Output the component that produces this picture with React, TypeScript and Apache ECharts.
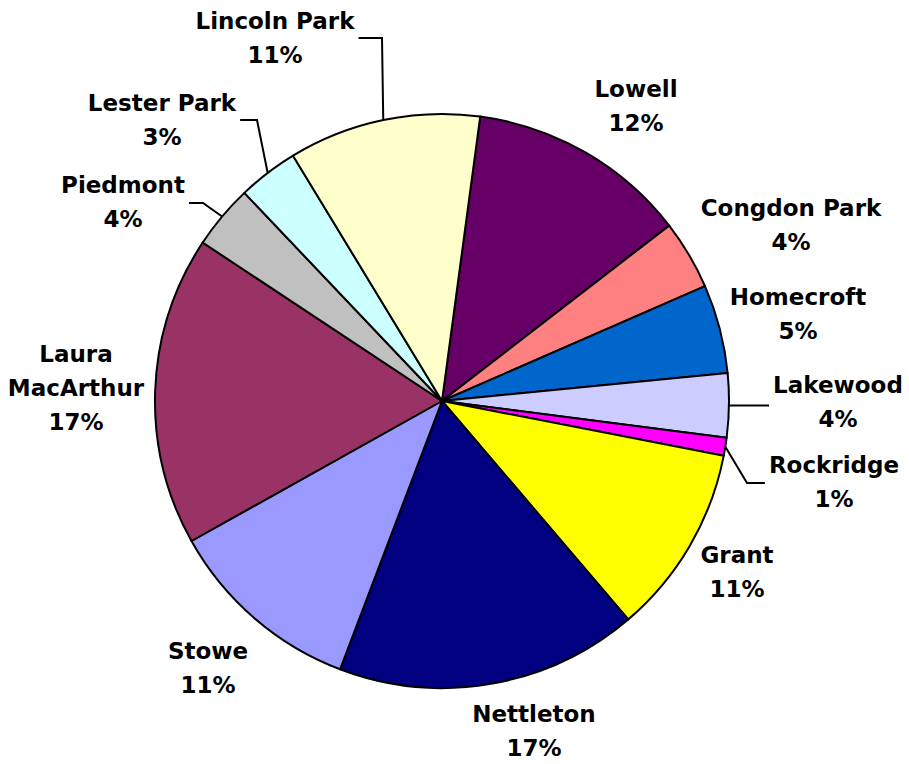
import React, { useEffect, useRef } from "react";
import * as echarts from "echarts";

// ---- data ----
const categories = [
  "Lowell",
  "Congdon Park",
  "Homecroft",
  "Lakewood",
  "Rockridge",
  "Grant",
  "Nettleton",
  "Stowe",
  "Laura MacArthur",
  "Piedmont",
  "Lester Park",
  "Lincoln Park",
];
const shares = [12.4, 3.9, 5.0, 3.6, 1.0, 10.7, 17.0, 11.1, 17.4, 3.6, 3.4, 10.8];

// ---- styles ----
const colors = [
  "#660066",
  "#FF8080",
  "#0066CC",
  "#CCCCFF",
  "#FF00FF",
  "#FFFF00",
  "#000080",
  "#9999FF",
  "#993366",
  "#C0C0C0",
  "#CCFFFF",
  "#FFFFCC",
];

// ---- layout (label offsets from pie centre, optional leader elbow) ----
const CX = 442;
const CY = 401;
const R = 287;
type LabelPos = { dx: number; dy: number; elbow?: [number, number] | null; lead: boolean; wrap?: boolean };
const labelPos: LabelPos[] = [
  { dx: 194, dy: -295, lead: false },
  { dx: 349, dy: -176, lead: false },
  { dx: 356, dy: -87, lead: false },
  { dx: 396, dy: 1, lead: true, elbow: null },
  { dx: 392, dy: 81, lead: true, elbow: [305, 82] },
  { dx: 295, dy: 171, lead: false },
  { dx: 92, dy: 330, lead: false },
  { dx: -234, dy: 267, lead: false },
  { dx: -366, dy: -13, lead: false, wrap: true },
  { dx: -319, dy: -199, lead: true, elbow: [-239, -198] },
  { dx: -280, dy: -281, lead: true, elbow: [-185, -281] },
  { dx: -167, dy: -363, lead: true, elbow: [-60, -363] },
];

export default function App() {
  const ref = useRef<HTMLDivElement>(null);

  useEffect(() => {
    if (!ref.current) return;
    const chart = echarts.init(ref.current, null, { renderer: "svg" });

    const data = categories.map((name, i) => ({
      name,
      value: shares[i],
      itemStyle: { color: colors[i] },
      labelLine: { show: labelPos[i].lead },
    }));

    chart.setOption({
      animation: false,
      backgroundColor: "#ffffff",
      series: [
        {
          type: "pie",
          center: [CX, CY],
          radius: R,
          startAngle: 82.35,
          clockwise: true,
          avoidLabelOverlap: false,
          data,
          itemStyle: { borderColor: "#000000", borderWidth: 2 },
          label: {
            show: true,
            position: "outside",
            fontFamily: "DejaVu Sans",
            fontWeight: "bold",
            fontSize: 23,
            lineHeight: 34,
            color: "#000000",
            align: "center",
            formatter: (p: any) => {
              const name = labelPos[p.dataIndex].wrap ? p.name.replace(" ", "\n") : p.name;
              return `${name}\n${Math.round(p.percent)}%`;
            },
          },
          labelLine: {
            lineStyle: { color: "#000000", width: 2 },
            length: 10,
            length2: 10,
          },
          labelLayout: (params: any) => {
            const lp = labelPos[params.dataIndex];
            const x = CX + lp.dx;
            const y = CY + lp.dy;
            const out: any = { x, y, align: "center", verticalAlign: "middle" };
            if (lp.lead && params.labelLinePoints) {
              const start = params.labelLinePoints[0];
              const halfW = params.labelRect.width / 2 + 4;
              const endX = start[0] < x ? x - halfW : x + halfW;
              const pts: number[][] = [start];
              if (lp.elbow) pts.push([CX + lp.elbow[0], CY + lp.elbow[1]]);
              pts.push([endX, lp.elbow ? CY + lp.elbow[1] : start[1]]);
              out.labelLinePoints = pts;
            }
            return out;
          },
        },
      ],
    });

    return () => chart.dispose();
  }, []);

  return (
    <div
      ref={ref}
      style={{ position: "fixed", left: 0, top: 0, width: 909, height: 764, background: "#fff" }}
    />
  );
}
